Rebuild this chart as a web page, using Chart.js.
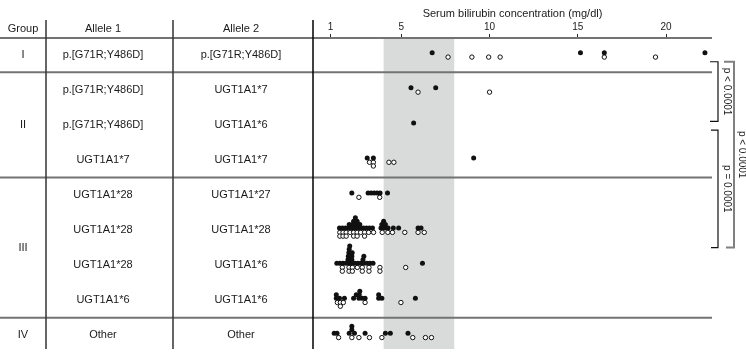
<!DOCTYPE html>
<html>
<head>
<meta charset="utf-8">
<script src="https://cdn.jsdelivr.net/npm/chart.js@4.4.1/dist/chart.umd.min.js"></script>
<style>
  html, body { margin: 0; padding: 0; background: #fff; }
  canvas { display: block; }
</style>
</head>
<body>
<canvas id="chart" width="746" height="354"></canvas>
<script>
// table rows, top to bottom
const groups = ['I', 'II', 'III', 'IV'];
const rowGroup = [0, 1, 1, 1, 2, 2, 2, 2, 3];
const allele1 = ['p.[G71R;Y486D]', 'p.[G71R;Y486D]', 'p.[G71R;Y486D]', 'UGT1A1*7', 'UGT1A1*28', 'UGT1A1*28', 'UGT1A1*28', 'UGT1A1*6', 'Other'];
const allele2 = ['p.[G71R;Y486D]', 'UGT1A1*7', 'UGT1A1*6', 'UGT1A1*7', 'UGT1A1*27', 'UGT1A1*28', 'UGT1A1*6', 'UGT1A1*6', 'Other'];

// serum bilirubin (mg/dl) per row - filled dots
const filledValues = [
  [6.75, 15.15, 16.5, 22.2],
  [5.55, 6.95],
  [5.7],
  [3.07, 3.42, 9.1],
  [2.2, 3.12, 3.29, 3.46, 3.63, 3.8, 4.22],
  [1.5, 1.67, 1.84, 2.01, 2.18, 2.35, 2.52, 2.69, 2.86, 3.03, 3.2, 3.37,
   2.05, 2.25, 2.45, 2.65, 2.3, 2.5, 2.4,
   3.85, 4.05, 4.25, 3.9, 4.1, 4.0, 4.55, 4.85, 5.95, 6.12],
  [1.35, 1.52, 1.69, 1.86, 2.03, 2.2, 2.37, 2.54, 2.71, 2.88, 3.05, 3.22, 3.4,
   1.98, 2.0, 2.05, 2.08, 2.02, 2.18, 2.22, 2.2, 2.83, 2.87, 6.2],
  [1.32, 1.32, 1.5, 1.78, 2.3, 2.45, 2.6, 2.62, 2.65, 2.78, 2.95, 3.72, 3.72, 3.9, 5.8],
  [1.2, 1.36, 2.05, 2.2, 2.2, 2.35, 2.95, 4.1, 4.38, 5.38]
];
// open dots
const openValues = [
  [7.65, 9.0, 9.95, 10.6, 16.5, 19.4],
  [5.95, 10.0],
  [],
  [3.2, 3.42, 3.42, 4.3, 4.58],
  [2.6, 3.78],
  [1.52, 1.52, 1.7, 1.7, 1.88, 1.88, 2.1, 2.3, 2.3, 2.5, 2.5, 2.7, 2.92, 2.92, 3.15, 3.43,
   3.92, 4.24, 4.5, 5.2, 5.95, 6.3],
  [1.66, 1.66, 2.04, 2.04, 2.23, 2.23, 2.51, 2.79, 2.79, 3.17, 3.17, 3.79, 3.79, 5.25],
  [1.38, 1.55, 1.55, 1.72, 2.95, 4.98],
  [1.45, 2.2, 2.6, 3.2, 3.9, 5.65, 6.37, 6.71]
];

const xTicks = [1, 5, 10, 15, 20];
const normalRange = [4, 8];

// significance brackets (row positions)
const pFrom = [0.2, 2.15, 0.2];
const pTo = [1.9, 5.5, 5.5];
const pLabels = ['p < 0.0001', 'p = 0.0001', 'p < 0.0001'];

const FONT = "'Liberation Sans', Arial, sans-serif";

const tablePlugin = {
  id: 'table',
  beforeDatasetsDraw(chart) {
    const ctx = chart.ctx, area = chart.chartArea;
    const x = chart.scales.x, y = chart.scales.y;
    ctx.save();
    // normal range band
    ctx.fillStyle = '#d9dada';
    const b0 = x.getPixelForValue(normalRange[0]), b1 = x.getPixelForValue(normalRange[1]);
    ctx.fillRect(b0, area.top, b1 - b0, area.bottom - area.top);

    // horizontal lines: header + between groups
    ctx.strokeStyle = '#737373';
    ctx.lineWidth = 2;
    const lines = [area.top];
    for (let i = 1; i < rowGroup.length; i++) {
      if (rowGroup[i] !== rowGroup[i - 1]) lines.push(y.getPixelForValue(i - 0.5));
    }
    lines.forEach(ly => {
      ctx.beginPath();
      ctx.moveTo(0, ly);
      ctx.lineTo(area.right, ly);
      ctx.stroke();
    });

    // column dividers
    ctx.lineWidth = 1.5;
    [46, 173].forEach(cx => {
      ctx.strokeStyle = '#333';
      ctx.beginPath();
      ctx.moveTo(cx, 20);
      ctx.lineTo(cx, area.bottom);
      ctx.stroke();
    });
    ctx.strokeStyle = '#000';
    ctx.beginPath();
    ctx.moveTo(area.left, 20);
    ctx.lineTo(area.left, area.bottom);
    ctx.stroke();
    ctx.restore();
  },
  afterDraw(chart) {
    const ctx = chart.ctx;
    const y = chart.scales.y;
    ctx.save();
    ctx.fillStyle = '#1a1a1a';
    ctx.font = '11px ' + FONT;
    ctx.textAlign = 'center';
    ctx.textBaseline = 'middle';
    ctx.fillText('Group', 23, 29);
    ctx.fillText('Allele 1', 103, 29);
    ctx.fillText('Allele 2', 241, 29);
    allele1.forEach((t, i) => {
      const py = y.getPixelForValue(i);
      ctx.fillText(t, 103, py);
      ctx.fillText(allele2[i], 241, py);
    });
    groups.forEach((g, gi) => {
      const rows = rowGroup.map((r, i) => r === gi ? i : -1).filter(i => i >= 0);
      const mid = (rows[0] + rows[rows.length - 1]) / 2;
      ctx.fillText(g, 23, y.getPixelForValue(mid));
    });

    // brackets
    const spec = [
      { x0: 710, x1: 718, tx: 727, color: '#111', w: 1.2 },
      { x0: 711, x1: 718, tx: 727, color: '#111', w: 1.2 },
      { x0: 724, x1: 734, tx: 742, color: '#808080', w: 2 }
    ];
    pLabels.forEach((lab, k) => {
      const s = spec[k];
      const t = y.getPixelForValue(pFrom[k]), b = y.getPixelForValue(pTo[k]);
      ctx.strokeStyle = s.color;
      ctx.lineWidth = s.w;
      ctx.beginPath();
      ctx.moveTo(s.x0, t);
      ctx.lineTo(s.x1, t);
      ctx.lineTo(s.x1, b);
      ctx.lineTo(s.x0 + (k === 2 ? 2 : 0), b);
      ctx.stroke();
      ctx.save();
      ctx.translate(s.tx, (t + b) / 2);
      ctx.rotate(Math.PI / 2);
      ctx.font = '10px ' + FONT;
      ctx.fillStyle = '#1a1a1a';
      ctx.fillText(lab, 0, 0);
      ctx.restore();
    });
    ctx.restore();
  }
};

const chart = new Chart(document.getElementById('chart'), {
  type: 'scatter',
  data: {
    datasets: [
      { label: 'filled', data: [], pointRadius: 2.5, pointBackgroundColor: '#111', pointBorderWidth: 0, order: 1 },
      { label: 'open', data: [], pointRadius: 2.2, pointBackgroundColor: '#fff', pointBorderColor: '#111', pointBorderWidth: 1, order: 2 }
    ]
  },
  options: {
    responsive: false,
    animation: false,
    layout: { padding: { left: 313, right: 34, top: 0, bottom: 0 } },
    plugins: { legend: { display: false }, tooltip: { enabled: false } },
    scales: {
      x: {
        type: 'linear',
        position: 'top',
        min: 0,
        max: 22.6,
        afterBuildTicks(scale) { scale.ticks = xTicks.map(v => ({ value: v })); },
        afterFit(scale) { scale.height = 38; },
        grid: { drawOnChartArea: false, drawTicks: true, tickLength: 4, color: '#222' },
        border: { display: false },
        ticks: { padding: 1, color: '#1a1a1a', font: { size: 10, family: FONT } },
        title: {
          display: true,
          text: 'Serum bilirubin concentration (mg/dl)',
          color: '#1a1a1a',
          font: { size: 11, family: FONT },
          padding: { top: 7, bottom: 0 }
        }
      },
      y: { type: 'linear', reverse: true, min: -0.477, max: 8.393, display: false }
    }
  },
  plugins: [tablePlugin]
});

// stack overlapping dots (filled upwards, open downwards), using the scales' pixel sizes
function placeDots(values, row, dir, base, step, pxX, pxY) {
  const placed = [];
  const thr = 2.8 / pxX;
  return values.slice().sort((a, b) => a - b).map(v => {
    let level = 0;
    while (placed.some(p => p.level === level && Math.abs(p.v - v) < thr)) level++;
    placed.push({ v, level });
    return { x: v, y: row + dir * (base + level * step) / pxY };
  });
}

const sx = chart.scales.x, sy = chart.scales.y;
const pxX = sx.getPixelForValue(1) - sx.getPixelForValue(0);
const pxY = sy.getPixelForValue(1) - sy.getPixelForValue(0);
chart.data.datasets[0].data = filledValues.flatMap((vals, i) => placeDots(vals, i, -1, 2, 3.5, pxX, pxY));
chart.data.datasets[1].data = openValues.flatMap((vals, i) => placeDots(vals, i, 1, 2.4, 3.8, pxX, pxY));
chart.update('none');
</script>
</body>
</html>
